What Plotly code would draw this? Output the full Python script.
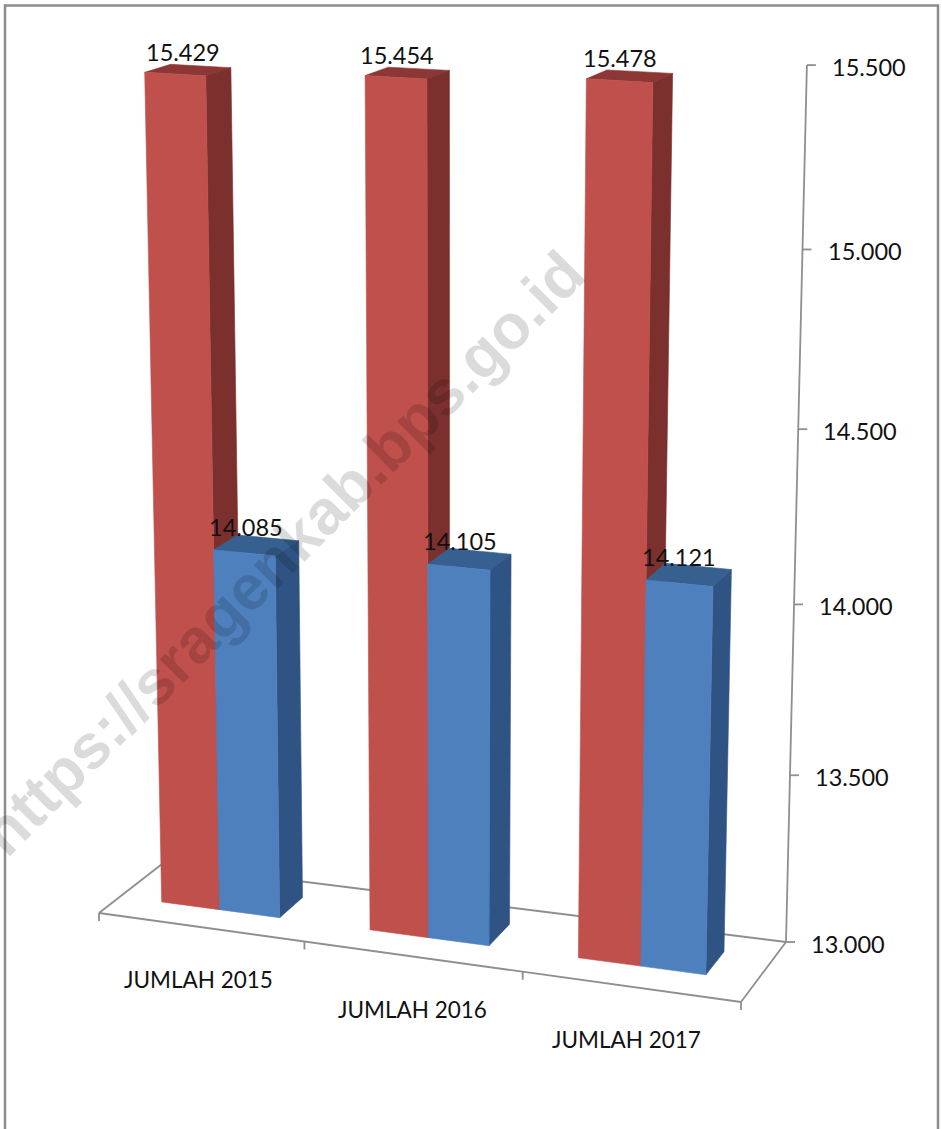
import numpy as np
import plotly.graph_objects as go

categories = ["JUMLAH 2015", "JUMLAH 2016", "JUMLAH 2017"]
red_values = [15429, 15454, 15478]
blue_values = [14085, 14105, 14121]
y_ticks = [13000, 13500, 14000, 14500, 15000, 15500]
watermark = "https://sragenkab.bps.go.id"

W, H = 942, 1129
BASE = 13000.0
FONT = "Lato"
GRID = "#8f8f8f"
RED = dict(front="#BF504C", side="#7B302E", top="#8C3735")
BLUE = dict(front="#4F80BE", side="#2F5483", top="#35608F")

# camera: floor corners on the page, vertical vanishing point
FL, FR, BR, BL = [np.array(p, float) for p in [(99, 913), (741, 1002), (786, 942), (162, 864)]]
VP = (451.0, 15000.0)
FLOOR_TICKS = [0, 0.32, 0.66, 1]
CELL_START = [0, 0.327, 0.65]
CELL_WIDTH = [0.333, 0.336, 0.36]
LABEL_DX = [-5, -10, -10, -10, -10, -10]


def floor(u, d):
    front = FL + (FR - FL) * u
    back = BL + (BR - BL) * u
    p = front + (back - front) * d
    return float(p[0]), float(p[1])


def rise(value):
    h = (value - BASE) / 1000.0
    return 0.3756 * h / (1 - 0.0244 * h)


def project(u, d, value):
    x, y = floor(u, d)
    full = 856 + 0.6 * (y - 903) - 0.004 * (x - 162)
    dy = full * rise(value)
    return x + (x - VP[0]) / (VP[1] - y) * dy, y - dy


fig = go.Figure()


def poly(points, color):
    xs, ys = zip(*(points + points[:1]))
    fig.add_trace(go.Scatter(x=xs, y=ys, mode="lines", fill="toself", fillcolor=color,
                             line=dict(width=0.6, color=color), hoverinfo="skip", showlegend=False))


def segment(p, q, width=1.8):
    fig.add_trace(go.Scatter(x=[p[0], q[0]], y=[p[1], q[1]], mode="lines",
                             line=dict(color=GRID, width=width), hoverinfo="skip", showlegend=False))


# floor, axis, ticks
for a, c in [((0, 0), (1, 0)), ((1, 0), (1, 1)), ((1, 1), (0, 1)), ((0, 1), (0, 0))]:
    segment(floor(*a), floor(*c))
for t in FLOOR_TICKS:
    x, y = floor(t, 0)
    segment((x, y), (x, y + 8))
segment(project(1, 1, y_ticks[0]), project(1, 1, y_ticks[-1]))
for v in y_ticks:
    x, y = project(1, 1, v)
    segment((x, y), (x + 9, y))


def bar(u0, u1, d0, d1, value, col):
    p = project
    poly([p(u0, d1, value), p(u1, d1, value), p(u1, d0, value), p(u0, d0, value)], col["top"])
    poly([p(u1, d0, value), p(u1, d1, value), p(u1, d1, BASE), p(u1, d0, BASE)], col["side"])
    poly([p(u0, d0, value), p(u1, d0, value), p(u1, d0, BASE), p(u0, d0, BASE)], col["front"])


D0, D1 = 0.34, 0.73
CUTS = (0.195, 0.468, 0.752)


def cuts(i):
    return [CELL_START[i] + c * CELL_WIDTH[i] for c in CUTS]


labels = []
for i in range(3):
    u0, u1, u2 = cuts(i)
    bar(u0, u1, D0, D1, red_values[i], RED)
    labels.append((u0, u1, red_values[i]))
for i in range(3):
    u0, u1, u2 = cuts(i)
    bar(u1, u2, D0, D1, blue_values[i], BLUE)
    labels.append((u1, u2, blue_values[i]))


def dotted(v):
    return f"{v:,.0f}".replace(",", ".")


ann = []
ann.append(dict(text=f"<b>{watermark}</b>", x=282, y=553, xref="x", yref="y", showarrow=False,
                textangle=-45, font=dict(family="Liberation Sans", size=63, color="rgba(0,0,0,0.14)")))
for (u0, u1, v), dx in zip(labels, LABEL_DX):
    x, y = project((u0 + u1) / 2, (D0 + D1) / 2, v)
    ann.append(dict(text=dotted(v), x=x + dx, y=y - 18, xref="x", yref="y", showarrow=False,
                    font=dict(family=FONT, size=23.5, color="#111111")))
for v in y_ticks:
    x, y = project(1, 1, v)
    ann.append(dict(text=dotted(v), x=x + 62, y=y + 2, xref="x", yref="y", showarrow=False,
                    font=dict(family=FONT, size=23.5, color="#111111")))
for i, c in enumerate(categories):
    x, y = floor((i + 0.5) / 3, 0)
    ann.append(dict(text=c, x=x - 8, y=y + 52, xref="x", yref="y", showarrow=False,
                    font=dict(family=FONT, size=22.5, color="#111111")))

shapes = [dict(type="rect", xref="x", yref="y", x0=5, x1=938, y0=5.5, y1=1140,
               line=dict(color="#8c8c8c", width=2.5), layer="above")]

fig.update_layout(
    width=W, height=H, margin=dict(l=0, r=0, t=0, b=0),
    paper_bgcolor="white", plot_bgcolor="white", showlegend=False,
    xaxis=dict(range=[0, W], visible=False, fixedrange=True),
    yaxis=dict(range=[H, 0], visible=False, fixedrange=True),
    annotations=ann, shapes=shapes,
)
fig.write_html("out.html", config=dict(displayModeBar=False),
               post_script="document.body.style.margin='0';")
